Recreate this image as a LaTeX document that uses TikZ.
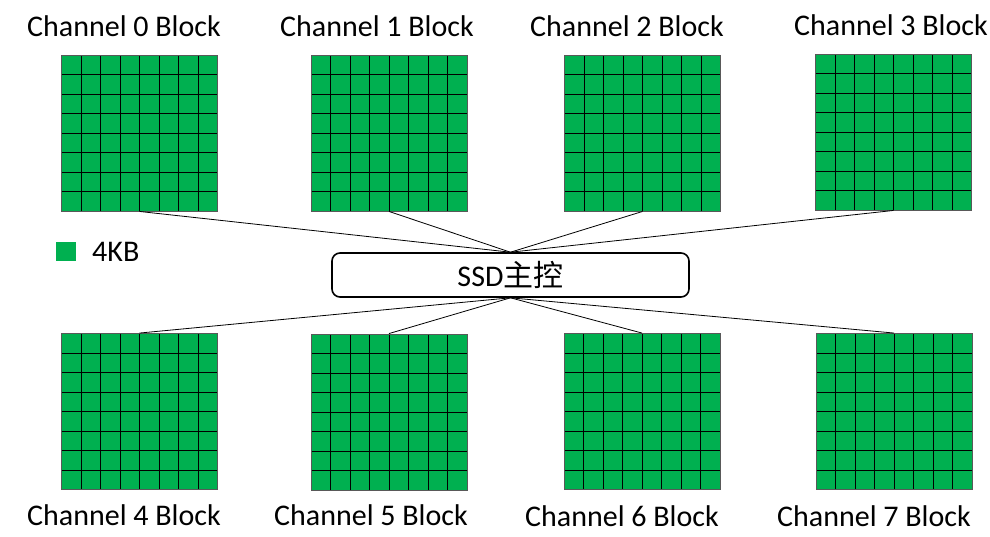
\documentclass[tikz,border=0pt]{standalone}
\usepackage{fontspec}
\setmainfont{Carlito}
\newfontfamily\cjk{Noto Sans CJK SC}
\usepackage{tikz}
\usetikzlibrary{calc}
\definecolor{flashgreen}{HTML}{00B050}
\tikzstyle{gridline} = [black, line width = 0.7pt]
\tikzstyle{block} = [rectangle, minimum width = 156pt, minimum height = 156pt, inner sep = 0pt, draw = black!65, line width = 0.9pt, fill = flashgreen,
  path picture = {\foreach \k in {1,...,7}{
    \draw [gridline] ($(path picture bounding box.south west)+(\k*19.5pt,0)$) -- ++(0,156pt);
    \draw [gridline] ($(path picture bounding box.south west)+(0,\k*19.5pt)$) -- ++(156pt,0);}}]
\tikzstyle{chanlabel} = [font = \fontsize{30}{35}\selectfont, inner sep = 0pt]
\tikzstyle{controller} = [rectangle, rounded corners = 8pt, minimum width = 357pt, minimum height = 44pt, draw = black, line width = 1.6pt, fill = white, font = \fontsize{30}{35}\selectfont]
\tikzstyle{bus} = [black, line width = 0.8pt]

\begin{document}
\begin{tikzpicture}[x = 1pt, y = -1pt]
\useasboundingbox (0,0) rectangle (990,536);

\node(chan0) [block] at (139.5,133) {};
\node(chan1) [block] at (389,133) {};
\node(chan2) [block] at (642.5,133) {};
\node(chan3) [block] at (893.5,132) {};
\node(chan4) [block] at (139.5,411.5) {};
\node(chan5) [block] at (389,412) {};
\node(chan6) [block] at (642,411.5) {};
\node(chan7) [block] at (894,411.5) {};

\node(lab0) [chanlabel] at (124,26) {Channel 0 Block};
\node(lab1) [chanlabel] at (377,26) {Channel 1 Block};
\node(lab2) [chanlabel] at (627,26) {Channel 2 Block};
\node(lab3) [chanlabel] at (891,25) {Channel 3 Block};
\node(lab4) [chanlabel] at (124,515) {Channel 4 Block};
\node(lab5) [chanlabel] at (371,515) {Channel 5 Block};
\node(lab6) [chanlabel] at (622,516) {Channel 6 Block};
\node(lab7) [chanlabel] at (874,516) {Channel 7 Block};

\node(ssdctrl) [controller] at (510.5,275) {SSD{\cjk 主控}};

\node(legendbox) [rectangle, fill = flashgreen, minimum size = 19.5pt, inner sep = 0pt] at (66,251.5) {};
\node(legendtext) [chanlabel, anchor = west] at (92,252) {4KB};

\draw [bus] (chan0.south) -- (ssdctrl.north);
\draw [bus] (chan1.south) -- (ssdctrl.north);
\draw [bus] (chan2.south) -- (ssdctrl.north);
\draw [bus] (chan3.south) -- (ssdctrl.north);
\draw [bus] (chan4.north) -- (ssdctrl.south);
\draw [bus] (chan5.north) -- (ssdctrl.south);
\draw [bus] (chan6.north) -- (ssdctrl.south);
\draw [bus] (chan7.north) -- (ssdctrl.south);

\end{tikzpicture}
\end{document}
